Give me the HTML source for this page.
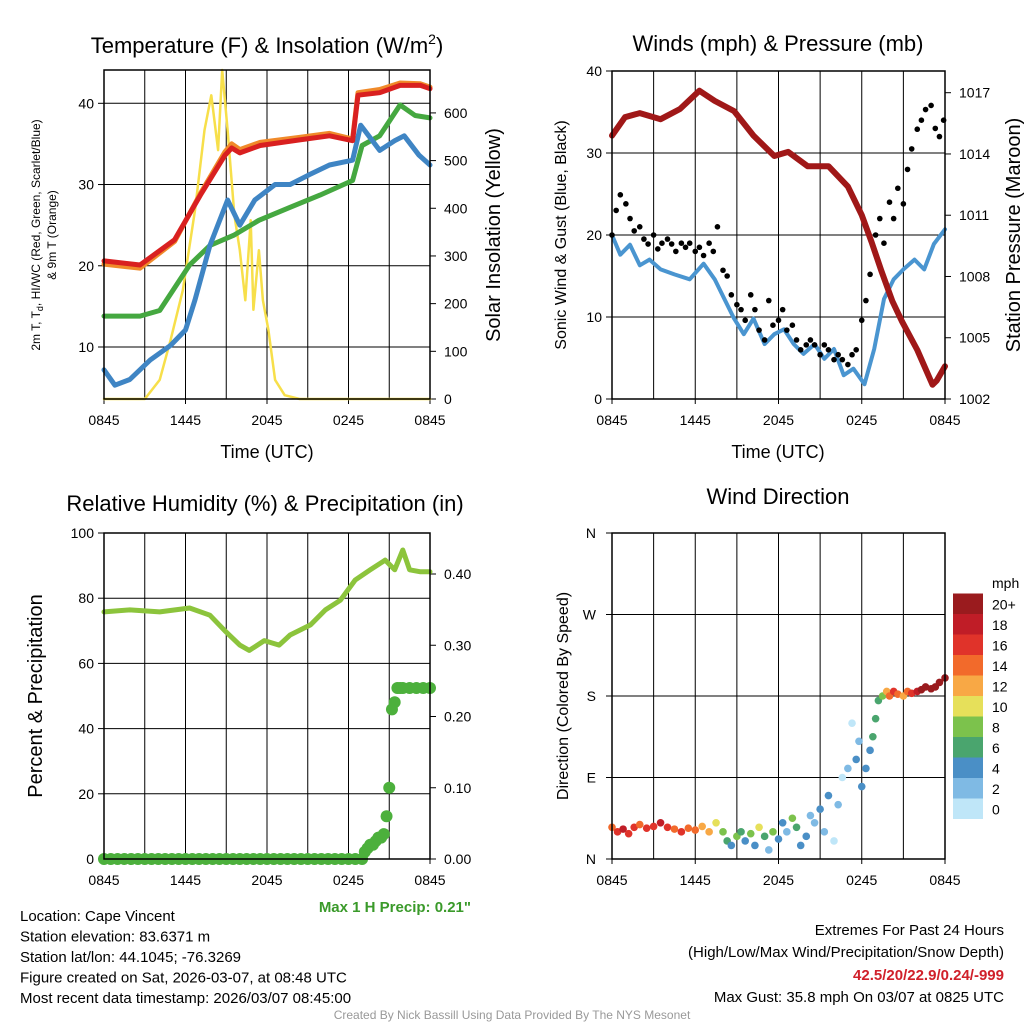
<!DOCTYPE html>
<html><head><meta charset="utf-8"><style>
body{margin:0;background:#fff;width:1024px;height:1024px;overflow:hidden;font-family:"Liberation Sans",sans-serif}
svg{display:block}
</style></head><body>
<svg id="s" width="1024" height="1024" xmlns="http://www.w3.org/2000/svg" font-family="Liberation Sans, sans-serif">
</svg>
<script>
// ---- data (time in hours since 0845 UTC) ----
const tTemp=[0,2.65,5.2,7.1,8.9,9.4,10,11.5,14.4,16.6,18.3,18.7,20.3,21.8,23.3,24];
const tempRed=[20.6,20.1,23.2,28.7,33.6,34.5,33.9,34.8,35.5,36,35.4,41,41.3,42.2,42.2,41.8];
const tempOrange=[20.2,19.7,23,28.9,34,35,34.3,35.2,35.8,36.3,35.6,41.3,41.7,42.5,42.4,42];
const tGreen=[0,2.65,4.1,6.3,7.8,9.6,11.4,13.7,15.9,18.3,19,20.3,21.8,22.9,24];
const tempGreen=[13.8,13.8,14.5,20.1,22.5,23.8,25.6,27.2,28.7,30.5,34.8,36,39.8,38.5,38.2];
const tDew=[0,0.8,1.9,3.4,4.9,6,6.7,7.8,9.1,10,11.1,12.6,13.7,15.1,16.6,18.3,18.9,20.3,21.4,22.1,23.2,24];
const dewBlue=[7.2,5.3,6,8.4,10.2,12.1,15.8,22.5,28.1,25,28.1,30,30,31.2,32.4,33,37.3,34.2,35.4,36,33.6,32.4];
const tSolar=[0,3,4.1,4.9,5.8,6.7,7.4,7.9,8.4,8.7,9.1,9.6,10,10.4,10.8,11,11.4,11.7,12.1,12.6,13.3,14.4,24];
const solar=[0,0,40,124,228,396,564,637,522,690,564,385,312,207,375,187,312,207,145,40,8,0,0];
const tPres=[0,0.94,2,3.5,4.9,6.3,7.4,8.8,10.2,11.7,12.7,14.1,15.6,17,18,18.7,19.4,20.2,20.9,22,23.1,23.4,24];
const pressure=[1014.9,1015.8,1016,1015.7,1016.2,1017.1,1016.6,1016.1,1014.9,1013.9,1014.1,1013.4,1013.4,1012.4,1011,1009.7,1008.3,1006.8,1005.8,1004.4,1002.7,1002.9,1003.6];
const tWind=[0,0.6,1.3,2,2.7,3.5,4.5,5.6,6.6,7.4,8.1,8.8,9.5,10.2,11,11.7,12.4,13.1,13.8,14.6,15.3,16,16.7,17.4,18.2,18.9,19.6,20.3,21,21.8,22.5,23.2,24];
const wind=[20,17.6,18.8,16.3,17,15.8,15.2,14.6,16.5,14.6,12.2,9.8,7.9,9.8,6.7,7.9,8.5,6.7,5.5,6.7,4.9,6.1,2.9,3.7,1.8,6.1,12.2,14.6,15.8,17,15.8,18.9,20.7];
const tGust=[0,0.3,0.6,1,1.3,1.6,2,2.3,2.6,3,3.3,3.6,4,4.3,4.6,5,5.3,5.6,6,6.3,6.6,7,7.3,7.6,8,8.3,8.6,9,9.3,9.6,10,10.3,10.6,11,11.3,11.6,12,12.3,12.6,13,13.3,13.6,14,14.3,14.6,15,15.3,15.6,16,16.3,16.6,17,17.3,17.6,18,18.3,18.6,19,19.3,19.6,20,20.3,20.6,21,21.3,21.6,22,22.3,22.6,23,23.3,23.6,23.9];
const gust=[20,23,24.9,23.8,22,20.5,21,19.5,18.9,20,18.3,19,19.5,18.9,18,19,18.5,19,18,18.5,17.5,19,18,21,15.7,15,12.7,11.5,10.9,9.6,12.7,10.9,8.4,7.2,12,9,9.6,10.9,8.4,9,7.2,6,6.6,7.2,6.6,5.4,6.6,6,4.8,5.4,4.8,4.2,5.4,6,9.6,12,15.2,20,22,19,24,22,25.7,23.8,28,30.5,32.9,34,35.3,35.8,33,32,34];
const tRH=[0,1.9,4.1,6.3,7.8,8.9,10,10.7,11.8,12.9,13.7,15.2,16.3,17.4,18.5,19.6,20.7,21.4,22,22.5,23.3,24];
const rh=[75.8,76.4,75.8,77,74.8,70,65.6,64,67,65.6,68.7,71.8,76.4,79.4,85.6,88.7,91.7,88.7,94.8,88.7,88.1,88.1];
const tPrecip=[0,0.5,1,1.5,2,2.5,3,3.5,4,4.5,5,5.5,6,6.5,7,7.5,8,8.5,9,9.5,10,10.5,11,11.5,12,12.5,13,13.5,14,14.5,15,15.5,16,16.5,17,17.5,18,18.5,19,19.2,19.4,19.6,19.8,20,20.2,20.4,20.6,20.8,21,21.2,21.4,21.6,21.8,22,22.5,23,23.5,24];
const precip=[0,0,0,0,0,0,0,0,0,0,0,0,0,0,0,0,0,0,0,0,0,0,0,0,0,0,0,0,0,0,0,0,0,0,0,0,0,0,0,0.01,0.015,0.02,0.02,0.025,0.03,0.03,0.035,0.06,0.1,0.21,0.22,0.24,0.24,0.24,0.24,0.24,0.24,0.24];
const tDir=[0,0.4,0.8,1.2,1.6,2,2.5,3,3.5,4,4.5,5,5.5,6,6.5,7,7.5,8,8.3,8.6,9,9.3,9.6,10,10.3,10.6,11,11.3,11.6,12,12.3,12.6,13,13.3,13.6,14,14.3,14.6,15,15.3,15.6,16,16.3,16.6,17,17.3,17.6,17.8,18,18.3,18.6,18.8,19,19.2,19.5,19.8,20,20.3,20.6,21,21.3,21.6,22,22.3,22.6,23,23.3,23.6,24];
const dirDeg=[35,30,33,28,35,38,34,36,40,35,33,30,34,32,36,30,40,30,20,15,25,30,20,28,15,35,25,10,30,22,40,30,45,35,15,25,48,40,55,30,70,20,60,90,100,150,110,130,80,100,120,135,155,175,180,185,180,185,182,180,185,183,185,187,190,188,190,195,200];
const dirSpd=[14,16,18,17,16,15,16,17,18,16,15,16,14,15,13,12,10,8,6,5,8,7,4,9,5,10,6,3,8,5,4,3,9,7,4,4,3,3,4,2,4,1,3,1,3,1,4,3,5,4,5,6,7,7,9,12,14,16,14,12,15,17,18,20,20,20,21,20,20];
const speedColors=['#bfe6f8','#7fbae4','#4a8fc6','#4aa56e','#7cc24c','#e6e05a','#f8a845','#f26a2b','#e0332a','#c01d27','#9a1b1e'];
const speedLabels=['0','2','4','6','8','10','12','14','16','18','20+'];
const xLabels=['0845','1445','2045','0245','0845'];
const xLabelHours=[0,6,12,18,24];

const S=document.getElementById('s');const NS='http://www.w3.org/2000/svg';
function el(tag,attrs,parent,name,inter){const e=document.createElementNS(NS,tag);for(const k in attrs)e.setAttribute(k,attrs[k]);


(parent||S).appendChild(e);return e;}
function txt(x,y,s,size,parent,name,extra){const e=el('text',Object.assign({x:x,y:y,'font-size':size,'text-anchor':'middle',fill:'#000'},extra||{}),parent,name);e.textContent=s;return e;}
function lin(d0,d1,r0,r1){return v=>r0+(v-d0)*(r1-r0)/(d1-d0);}
function path(xs,ys,fx,fy,attrs,name,g){let d='';xs.forEach((t,i)=>{d+=(i?'L':'M')+fx(t).toFixed(1)+','+fy(ys[i]).toFixed(1);});return el('path',Object.assign({d:d,fill:'none','stroke-linejoin':'round','stroke-linecap':'round'},attrs),g,name);}

function frame(x0,y0,x1,y1,name){const g=el('g',{},S,name);
const fx=lin(0,24,x0,x1);
for(let h=3;h<24;h+=3)el('line',{x1:fx(h),x2:fx(h),y1:y0,y2:y1,stroke:'#000','stroke-width':1},g,'grid-vertical');
xLabelHours.forEach((h,i)=>{el('line',{x1:fx(h),x2:fx(h),y1:y1,y2:y1+5,stroke:'#000'},g,'x-tick');txt(fx(h),y1+26,xLabels[i],14,g,'x-tick-label');});
return {g,fx};}
function box(x0,y0,x1,y1,g){el('rect',{x:x0,y:y0,width:x1-x0,height:y1-y0,fill:'none',stroke:'#000','stroke-width':1.5},g,'plot-frame');}
function hgrid(vals,fy,x0,x1,g){vals.forEach(v=>{const y=fy(v);el('line',{x1:x0,x2:x1,y1:y,y2:y,stroke:'#000','stroke-width':1},g,'grid-horizontal');});}
function ticksL(vals,fy,x0,g,fmt){vals.forEach(v=>{const y=fy(v);el('line',{x1:x0-6,x2:x0,y1:y,y2:y,stroke:'#000'},g,'y-tick');txt(x0-10,y+5,fmt?fmt(v):String(v),14,g,'y-tick-label',{'text-anchor':'end'});});}
function ticksR(vals,fy,x1,g,fmt){vals.forEach(v=>{const y=fy(v);el('line',{x1:x1,x2:x1+6,y1:y,y2:y,stroke:'#000'},g,'y2-tick');txt(x1+14,y+5,fmt?fmt(v):String(v),14,g,'y2-tick-label',{'text-anchor':'start'});});}
function vtitle(x,y,s,size,g,name){return txt(0,0,s,size,g,name,{transform:'translate('+x+','+y+') rotate(-90)'});}
function tspan(parent,s,attrs){const sp=document.createElementNS(NS,'tspan');for(const k in attrs)sp.setAttribute(k,attrs[k]);sp.textContent=s;parent.appendChild(sp);return sp;}

// ---- Panel 1: temperature ----
{const x0=104,y0=70,x1=430,y1=399;const {g,fx}=frame(x0,y0,x1,y1,'temperature-panel');
const fy=lin(3.6,44.1,y1,y0);const fs=lin(0,690,y1,y0);
hgrid([10,20,30,40],fy,x0,x1,g);
ticksL([10,20,30,40],fy,x0,g);ticksR([0,100,200,300,400,500,600],fs,x1,g);
path(tSolar,solar,fx,fs,{stroke:'#f7df4a','stroke-width':2.5},'solar-line',g);
path(tGreen,tempGreen,fx,fy,{stroke:'#45a840','stroke-width':5},'wind-chill-line',g);
path(tDew,dewBlue,fx,fy,{stroke:'#3f85c4','stroke-width':5},'dewpoint-line',g);
path(tTemp,tempOrange,fx,fy,{stroke:'#f08a2a','stroke-width':5},'temp-9m-line',g);
path(tTemp,tempRed,fx,fy,{stroke:'#d92020','stroke-width':5},'temp-2m-line',g);
box(x0,y0,x1,y1,g);
const t=txt(267,53,'Temperature (F) & Insolation (W/m',22,g,'chart-title-temperature');tspan(t,'2',{dy:'-9','font-size':'14'});tspan(t,')',{dy:'9'});
txt(267,458,'Time (UTC)',18,g,'x-axis-title');
const yt=vtitle(40,235,'2m T, T',12,g,'y-axis-title');tspan(yt,'d',{dy:'3','font-size':'9'});tspan(yt,', HI/WC (Red, Green, Scarlet/Blue)',{dy:'-3'});
vtitle(56,235,'& 9m T (Orange)',12,g,'y-axis-title-2');
vtitle(500,235,'Solar Insolation (Yellow)',20,g,'y2-axis-title');}

// ---- Panel 2: winds ----
{const x0=612,y0=71,x1=945,y1=399;const {g,fx}=frame(x0,y0,x1,y1,'winds-panel');
const fy=lin(0,40,y1,y0);const fp=lin(1002,1017,y1,92.7);
hgrid([10,20,30],fy,x0,x1,g);
ticksL([0,10,20,30,40],fy,x0,g);ticksR([1002,1005,1008,1011,1014,1017],fp,x1,g);
path(tWind,wind,fx,fy,{stroke:'#4a95d0','stroke-width':4},'wind-speed-line',g);
tGust.forEach((t,i)=>{el('circle',{cx:fx(t),cy:fy(gust[i]),r:2.8,fill:'#000'},g,'gust-dot');});
path(tPres,pressure,fx,fp,{stroke:'#a01818','stroke-width':6},'pressure-line',g);
box(x0,y0,x1,y1,g);
txt(778,51,'Winds (mph) & Pressure (mb)',22,g,'chart-title-winds');
txt(778,458,'Time (UTC)',18,g,'x-axis-title');
vtitle(566,235,'Sonic Wind & Gust (Blue, Black)',16,g,'y-axis-title');
vtitle(1020,235,'Station Pressure (Maroon)',20,g,'y2-axis-title');}

// ---- Panel 3: RH ----
{const x0=104,y0=533,x1=430,y1=859;const {g,fx}=frame(x0,y0,x1,y1,'humidity-panel');
const fy=lin(0,100,y1,y0);const fr=lin(0,0.4,y1,574);
hgrid([20,40,60,80],fy,x0,x1,g);
ticksL([0,20,40,60,80,100],fy,x0,g);ticksR([0,0.1,0.2,0.3,0.4],fr,x1,g,v=>v.toFixed(2));
path(tRH,rh,fx,fy,{stroke:'#8cc43c','stroke-width':5},'rh-line',g);
tPrecip.forEach((t,i)=>{el('circle',{cx:fx(t),cy:fr(precip[i]),r:6,fill:'#4cb03c'},g,'precip-dot');});
box(x0,y0,x1,y1,g);
txt(265,511,'Relative Humidity (%) & Precipitation (in)',22,g,'chart-title-humidity');
vtitle(42,696,'Percent & Precipitation',20,g,'y-axis-title');
txt(471,912,'Max 1 H Precip: 0.21"',15,g,'max-precip-note',{'text-anchor':'end','font-weight':'bold',fill:'#3a9a2a'});}

// ---- Panel 4: wind direction ----
{const x0=612,y0=533,x1=945,y1=859;const {g,fx}=frame(x0,y0,x1,y1,'direction-panel');
const fy=lin(0,360,y1,y0);
hgrid([90,180,270],fy,x0,x1,g);
const dl=['N','E','S','W','N'];[0,90,180,270,360].forEach((v,i)=>{const y=fy(v);el('line',{x1:x0-6,x2:x0,y1:y,y2:y,stroke:'#000'},g,'y-tick');txt(x0-16,y+5,dl[i],14,g,'y-tick-label',{'text-anchor':'end'});});
tDir.forEach((t,i)=>{el('circle',{cx:fx(t),cy:fy(dirDeg[i]),r:3.8,fill:speedColors[Math.min(10,Math.floor(dirSpd[i]/2))]},g,'direction-dot');});
box(x0,y0,x1,y1,g);
txt(778,504,'Wind Direction',22,g,'chart-title-direction');
vtitle(568,696,'Direction (Colored By Speed)',16,g,'y-axis-title');
const lg=el('g',{},g,'speed-colorbar');
speedColors.forEach((c,i)=>{const y=819-(i+1)*20.5;el('rect',{x:953,y:y,width:30,height:20.5,fill:c},lg,'colorbar-box');txt(992,y+16,speedLabels[i],14,lg,'colorbar-label',{'text-anchor':'start'});});
txt(992,588,'mph',14,lg,'colorbar-title',{'text-anchor':'start'});}

// ---- footer text ----
const ft=el('g',{},S,'footer');
['Location: Cape Vincent','Station elevation: 83.6371 m','Station lat/lon: 44.1045; -76.3269','Figure created on Sat, 2026-03-07, at 08:48 UTC','Most recent data timestamp: 2026/03/07 08:45:00'].forEach((s,i)=>txt(20,921+i*20.5,s,15,ft,'station-info',{'text-anchor':'start'}));
txt(1004,935,'Extremes For Past 24 Hours',15,ft,'extremes-title',{'text-anchor':'end'});
txt(1004,957,'(High/Low/Max Wind/Precipitation/Snow Depth)',15,ft,'extremes-subtitle',{'text-anchor':'end'});
txt(1004,980,'42.5/20/22.9/0.24/-999',15,ft,'extremes-values',{'text-anchor':'end','font-weight':'bold',fill:'#d0202a'});
txt(1004,1002,'Max Gust: 35.8 mph On 03/07 at 0825 UTC',15,ft,'max-gust',{'text-anchor':'end'});
txt(512,1019,'Created By Nick Bassill Using Data Provided By The NYS Mesonet',12,ft,'credit',{fill:'#999'});
</script>
</body></html>
